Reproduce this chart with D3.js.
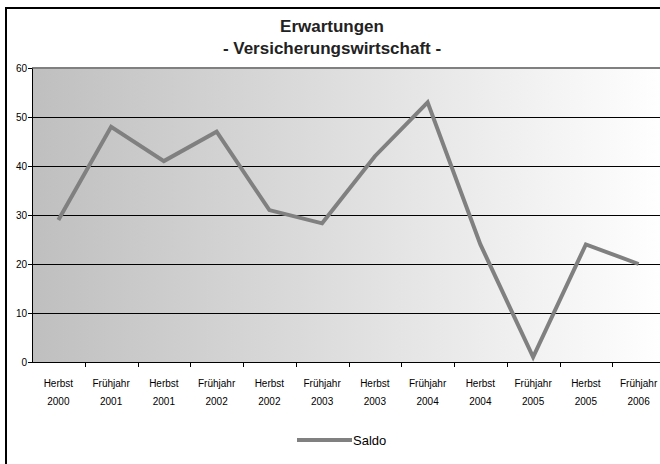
<!DOCTYPE html>
<html>
<head>
<meta charset="utf-8">
<script src="https://cdn.jsdelivr.net/npm/d3@7"></script>
<style>
  body { margin: 0; background: #fff; }
  svg { display: block; font-family: "Liberation Sans", Arial, sans-serif; }
</style>
</head>
<body>
<div id="chart"></div>
<script>
// data
var seasons = ["Herbst", "Frühjahr", "Herbst", "Frühjahr", "Herbst", "Frühjahr",
               "Herbst", "Frühjahr", "Herbst", "Frühjahr", "Herbst", "Frühjahr"];
var years = ["2000", "2001", "2001", "2002", "2002", "2003",
             "2003", "2004", "2004", "2005", "2005", "2006"];
var saldo = [29, 48, 41, 47, 31, 28.3, 42, 53, 24, 1, 24, 20];
var yTicks = [0, 10, 20, 30, 40, 50, 60];

var categories = seasons.map(function(s, i) { return s + " " + years[i]; });

var width = 660, height = 464;
var plot = { left: 32, right: 665, top: 68, bottom: 362 };

var svg = d3.select("#chart").append("svg")
  .attr("width", width)
  .attr("height", height);

// gradient for plot background
var defs = svg.append("defs");
var grad = defs.append("linearGradient")
  .attr("id", "bg")
  .attr("x1", "0%").attr("x2", "100%")
  .attr("y1", "0%").attr("y2", "0%");
grad.append("stop").attr("offset", "0%").attr("stop-color", "#bfbfbf");
grad.append("stop").attr("offset", "100%").attr("stop-color", "#ffffff");

// outer frame (runs off the right and bottom edge)
svg.append("rect")
  .attr("x", 6).attr("y", 8)
  .attr("width", 700).attr("height", 500)
  .attr("fill", "none")
  .attr("stroke", "#000")
  .attr("stroke-width", 2);

// title
svg.append("text")
  .attr("x", 332).attr("y", 32)
  .attr("text-anchor", "middle")
  .attr("font-size", 17).attr("font-weight", "bold")
  .attr("fill", "#222")
  .text("Erwartungen");
svg.append("text")
  .attr("x", 332).attr("y", 54)
  .attr("text-anchor", "middle")
  .attr("font-size", 17).attr("font-weight", "bold")
  .attr("fill", "#222")
  .text("- Versicherungswirtschaft -");

// scales
var x = d3.scaleBand()
  .domain(categories)
  .range([plot.left, plot.right]);

var y = d3.scaleLinear()
  .domain([0, 60])
  .range([plot.bottom, plot.top]);

// plot area
svg.append("rect")
  .attr("x", plot.left).attr("y", plot.top)
  .attr("width", plot.right - plot.left)
  .attr("height", plot.bottom - plot.top)
  .attr("fill", "url(#bg)");

// gridlines
svg.append("g")
  .selectAll("line")
  .data(yTicks.filter(function(d) { return d > 0 && d < 60; }))
  .enter().append("line")
  .attr("x1", plot.left).attr("x2", plot.right)
  .attr("y1", function(d) { return Math.round(y(d)) + 0.5; })
  .attr("y2", function(d) { return Math.round(y(d)) + 0.5; })
  .attr("stroke", "#000")
  .attr("stroke-width", 1);

// top border of plot area
svg.append("line")
  .attr("x1", plot.left).attr("x2", plot.right)
  .attr("y1", y(60)).attr("y2", y(60))
  .attr("stroke", "#808080")
  .attr("stroke-width", 2);

// y axis
var yAxis = d3.axisLeft(y)
  .tickValues(yTicks)
  .tickSize(4)
  .tickSizeOuter(0);

var yAxisGroup = svg.append("g")
  .attr("class", "axis y-axis")
  .attr("transform", "translate(" + plot.left + ",0)")
  .call(yAxis);
yAxisGroup.select(".domain").attr("stroke", "#000");
yAxisGroup.selectAll("text")
  .attr("font-size", 10)
  .attr("font-family", "Liberation Sans, Arial, sans-serif")
  .attr("fill", "#000")
  .attr("x", -5);

// x axis: ticks between categories, two-line labels at band centres
var xAxisGroup = svg.append("g").attr("class", "axis x-axis");
xAxisGroup.append("line")
  .attr("x1", plot.left).attr("x2", plot.right)
  .attr("y1", plot.bottom + 0.5).attr("y2", plot.bottom + 0.5)
  .attr("stroke", "#000");

xAxisGroup.selectAll(".tick-line")
  .data(categories.slice(1))
  .enter().append("line")
  .attr("class", "tick-line")
  .attr("x1", function(d) { return Math.round(x(d)) + 0.5; })
  .attr("x2", function(d) { return Math.round(x(d)) + 0.5; })
  .attr("y1", plot.bottom).attr("y2", plot.bottom + 5)
  .attr("stroke", "#000");

var labels = xAxisGroup.selectAll(".tick-label")
  .data(categories)
  .enter().append("text")
  .attr("class", "tick-label")
  .attr("text-anchor", "middle")
  .attr("font-size", 10)
  .attr("fill", "#000");
labels.append("tspan")
  .attr("x", function(d) { return x(d) + x.bandwidth() / 2; })
  .attr("y", 387)
  .text(function(d, i) { return seasons[i]; });
labels.append("tspan")
  .attr("x", function(d) { return x(d) + x.bandwidth() / 2; })
  .attr("y", 405)
  .text(function(d, i) { return years[i]; });

// line
var line = d3.line()
  .x(function(d, i) { return x(categories[i]) + x.bandwidth() / 2; })
  .y(function(d) { return y(d); });

svg.append("path")
  .datum(saldo)
  .attr("d", line)
  .attr("fill", "none")
  .attr("stroke", "#808080")
  .attr("stroke-width", 4);

// legend
var legend = svg.append("g").attr("class", "legend");
legend.append("line")
  .attr("x1", 297).attr("x2", 352)
  .attr("y1", 440).attr("y2", 440)
  .attr("stroke", "#808080")
  .attr("stroke-width", 4);
legend.append("text")
  .attr("x", 353).attr("y", 445)
  .attr("font-size", 13)
  .attr("fill", "#000")
  .text("Saldo");
</script>
</body>
</html>
